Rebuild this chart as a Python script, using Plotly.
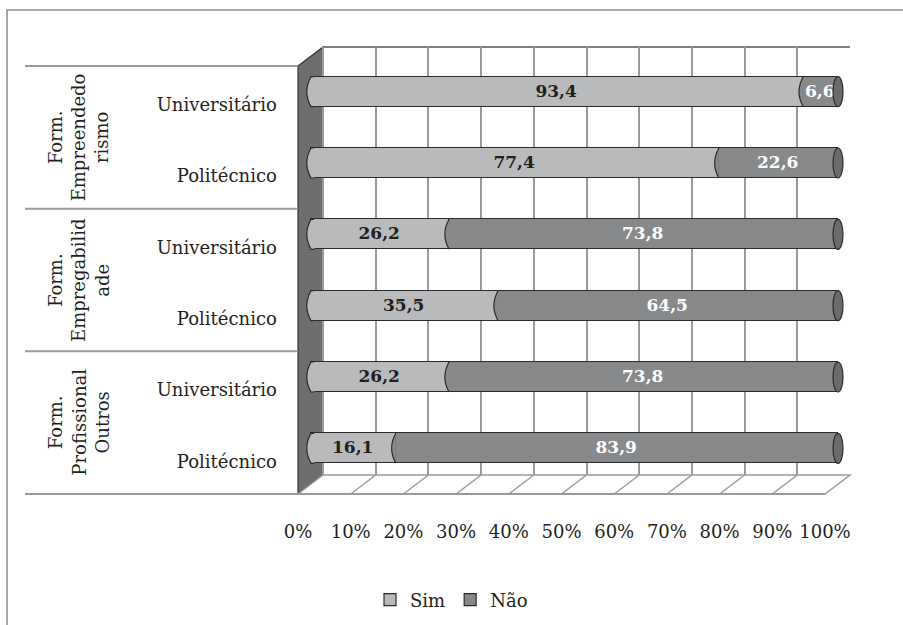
import plotly.graph_objects as go

# ---------------- data ----------------
group_labels = ["Form.<br>Empreendedo<br>rismo", "Form.<br>Empregabilid<br>ade", "Form.<br>Profissional<br>Outros"]
row_labels = ["Universitário", "Politécnico", "Universitário", "Politécnico", "Universitário", "Politécnico"]
sim = [93.4, 77.4, 26.2, 35.5, 26.2, 16.1]
nao = [6.6, 22.6, 73.8, 64.5, 73.8, 83.9]
x_ticks = [0, 10, 20, 30, 40, 50, 60, 70, 80, 90, 100]
x_ticktext = [f"{t}%" for t in x_ticks]
series_names = ["Sim", "Não"]

# ---------------- styling / geometry ----------------
W, H = 903, 625
FONT = "DejaVu Serif"
TXT = "#231f20"
SIM_C = "#b9babc"
NAO_C = "#88898b"
EDGE = "#2b2b2b"
GRID = "#9a9a9a"

K = 5.27            # px per percent
BACK_L = 323        # back wall x (0 %)
BAR_SHIFT = 12      # bars are drawn nearer to the viewer (shifted left)
PAD = 2.5           # extra percent room on the left for the rounded ends
DDX, DDY = 25, 19   # perspective depth offset
TOP, BOT = 47, 475  # back plane top / bottom
n = len(row_labels)
RH = (BOT - TOP) / n
ROW_OFF = 9 / RH
BW = 30 / RH
h = BW / 2

bar0_px = BACK_L - BAR_SHIFT
dom_l = bar0_px - PAD * K
dom_r = BACK_L + 100 * K
span = (dom_r - dom_l) / K


def px(x):
    return x / W


def py(y):
    return 1 - y / H


ypos = list(range(n))
sim_text = [f"{v:.1f}".replace(".", ",") for v in sim]
nao_text = [f"{v:.1f}".replace(".", ",") for v in nao]

fig = go.Figure()
fig.add_trace(go.Bar(
    y=ypos, x=sim, orientation="h", name=series_names[0], width=BW,
    marker=dict(color=SIM_C, line=dict(color=EDGE, width=1.2)),
    text=sim_text, textposition="inside", insidetextanchor="middle",
    textfont=dict(family=FONT, size=17, color=TXT, weight="bold"),
    constraintext="none", hoverinfo="skip",
))
fig.add_trace(go.Bar(
    y=ypos, x=nao, orientation="h", name=series_names[1], width=BW,
    marker=dict(color=NAO_C, line=dict(color=EDGE, width=1.2)),
    text=nao_text, textposition="inside", insidetextanchor="middle",
    textfont=dict(family=FONT, size=17, color="white", weight="bold"),
    constraintext="none", hoverinfo="skip",
))

shapes = []
# outer border
shapes.append(dict(type="rect", xref="paper", yref="paper", x0=px(7), x1=px(W + 20),
                   y0=py(10), y1=py(H + 20), line=dict(color="#8c8c8c", width=1.5),
                   fillcolor="rgba(0,0,0,0)", layer="below"))
# left wall
wall = (f"M {px(BACK_L-DDX)},{py(TOP+DDY)} L {px(BACK_L)},{py(TOP)} "
        f"L {px(BACK_L)},{py(BOT)} L {px(BACK_L-DDX)},{py(BOT+DDY)} Z")
shapes.append(dict(type="path", xref="paper", yref="paper", path=wall,
                   fillcolor="#6d6e70", line=dict(color="#333333", width=1.2), layer="between"))
# floor
fr = BACK_L + 100 * K
floor = (f"M {px(BACK_L-DDX)},{py(BOT+DDY)} L {px(BACK_L)},{py(BOT)} "
         f"L {px(fr)},{py(BOT)} L {px(fr-DDX)},{py(BOT+DDY)} Z")
shapes.append(dict(type="path", xref="paper", yref="paper", path=floor,
                   fillcolor="white", line=dict(color=GRID, width=1.5), layer="between"))
for t in x_ticks[1:-1]:
    xb = BACK_L + t * K
    shapes.append(dict(type="line", xref="paper", yref="paper",
                       x0=px(xb), y0=py(BOT), x1=px(xb - DDX), y1=py(BOT + DDY),
                       line=dict(color=GRID, width=1.5), layer="between"))
# top back edge
shapes.append(dict(type="line", xref="paper", yref="paper", x0=px(BACK_L), x1=px(fr),
                   y0=py(TOP), y1=py(TOP), line=dict(color="#555555", width=1.5), layer="between"))
# front floor edge + group separators
for g in range(len(group_labels) + 1):
    yy = TOP + DDY + g * 2 * RH
    x_end = fr - DDX if g == len(group_labels) else BACK_L - DDX
    shapes.append(dict(type="line", xref="paper", yref="paper", x0=px(25), x1=px(x_end),
                       y0=py(yy), y1=py(yy), line=dict(color=GRID, width=2), layer="above"))

# cylinder details
for i in range(n):
    yc = ypos[i]
    # rounded left end
    shapes.append(dict(type="path", xref="x", yref="y",
                       path=f"M 0.6,{yc-h} L 0,{yc-h} Q -1.6,{yc} 0,{yc+h} L 0.6,{yc+h}",
                       fillcolor=SIM_C, line=dict(color=EDGE, width=1.2), layer="above"))
    # split arc
    s = sim[i]
    shapes.append(dict(type="path", xref="x", yref="y",
                       path=f"M {s},{yc-h} Q {s-1.6},{yc} {s},{yc+h}",
                       fillcolor=NAO_C, line=dict(color=EDGE, width=1.2), layer="above"))
    # right cap
    tot = sim[i] + nao[i]
    shapes.append(dict(type="circle", xref="x", yref="y", x0=tot - 0.95, x1=tot + 0.95,
                       y0=yc - h, y1=yc + h, fillcolor="#6a6b6d",
                       line=dict(color=EDGE, width=1.2), layer="above"))

annotations = []
for g, lab in enumerate(group_labels):
    yc = TOP + DDY + (2 * g + 1) * RH
    annotations.append(dict(xref="paper", yref="paper", x=px(79), y=py(yc), text=lab,
                            textangle=-90, showarrow=False, xanchor="center", yanchor="middle",
                            font=dict(family=FONT, size=18, color=TXT)))

fig.update_layout(
    width=W, height=H,
    margin=dict(l=0, r=0, t=0, b=0),
    paper_bgcolor="white", plot_bgcolor="rgba(0,0,0,0)",
    barmode="stack", bargap=0,
    font=dict(family=FONT, size=18, color=TXT),
    showlegend=True,
    legend=dict(orientation="h", x=0.5, xanchor="center", y=py(600), yanchor="middle",
                font=dict(family=FONT, size=18, color=TXT), traceorder="normal",
                itemwidth=30),
    xaxis=dict(domain=[px(dom_l), px(dom_r)], range=[-PAD, span - PAD],
               showticklabels=False, showgrid=False, zeroline=False, showline=False,
               fixedrange=True),
    xaxis2=dict(overlaying="x", anchor="y", side="bottom",
                range=[-PAD - BAR_SHIFT / K, span - PAD - BAR_SHIFT / K],
                tickvals=x_ticks, ticktext=x_ticktext, showgrid=True, gridcolor=GRID,
                gridwidth=1.5, zeroline=False, showline=False, ticks="",
                ticklabelshift=-DDX, ticklabelstandoff=44,
                tickfont=dict(family=FONT, size=18, color=TXT), automargin=False),
    yaxis=dict(domain=[py(BOT), py(TOP)], range=[n - 0.5 - ROW_OFF, -0.5 - ROW_OFF],
               tickvals=ypos, ticktext=row_labels, showgrid=False, zeroline=False,
               showline=False, ticks="", ticklabelstandoff=20, ticklabelshift=-13,
               tickfont=dict(family=FONT, size=18, color=TXT), automargin=False),
    shapes=shapes, annotations=annotations,
)
fig.add_trace(go.Scatter(x=[None], y=[None], xaxis="x2", yaxis="y", showlegend=False,
                         hoverinfo="skip"))
fig.write_html("out.html", config={"displayModeBar": False},
               post_script="document.body.style.margin='0';document.body.style.overflow='hidden';")
